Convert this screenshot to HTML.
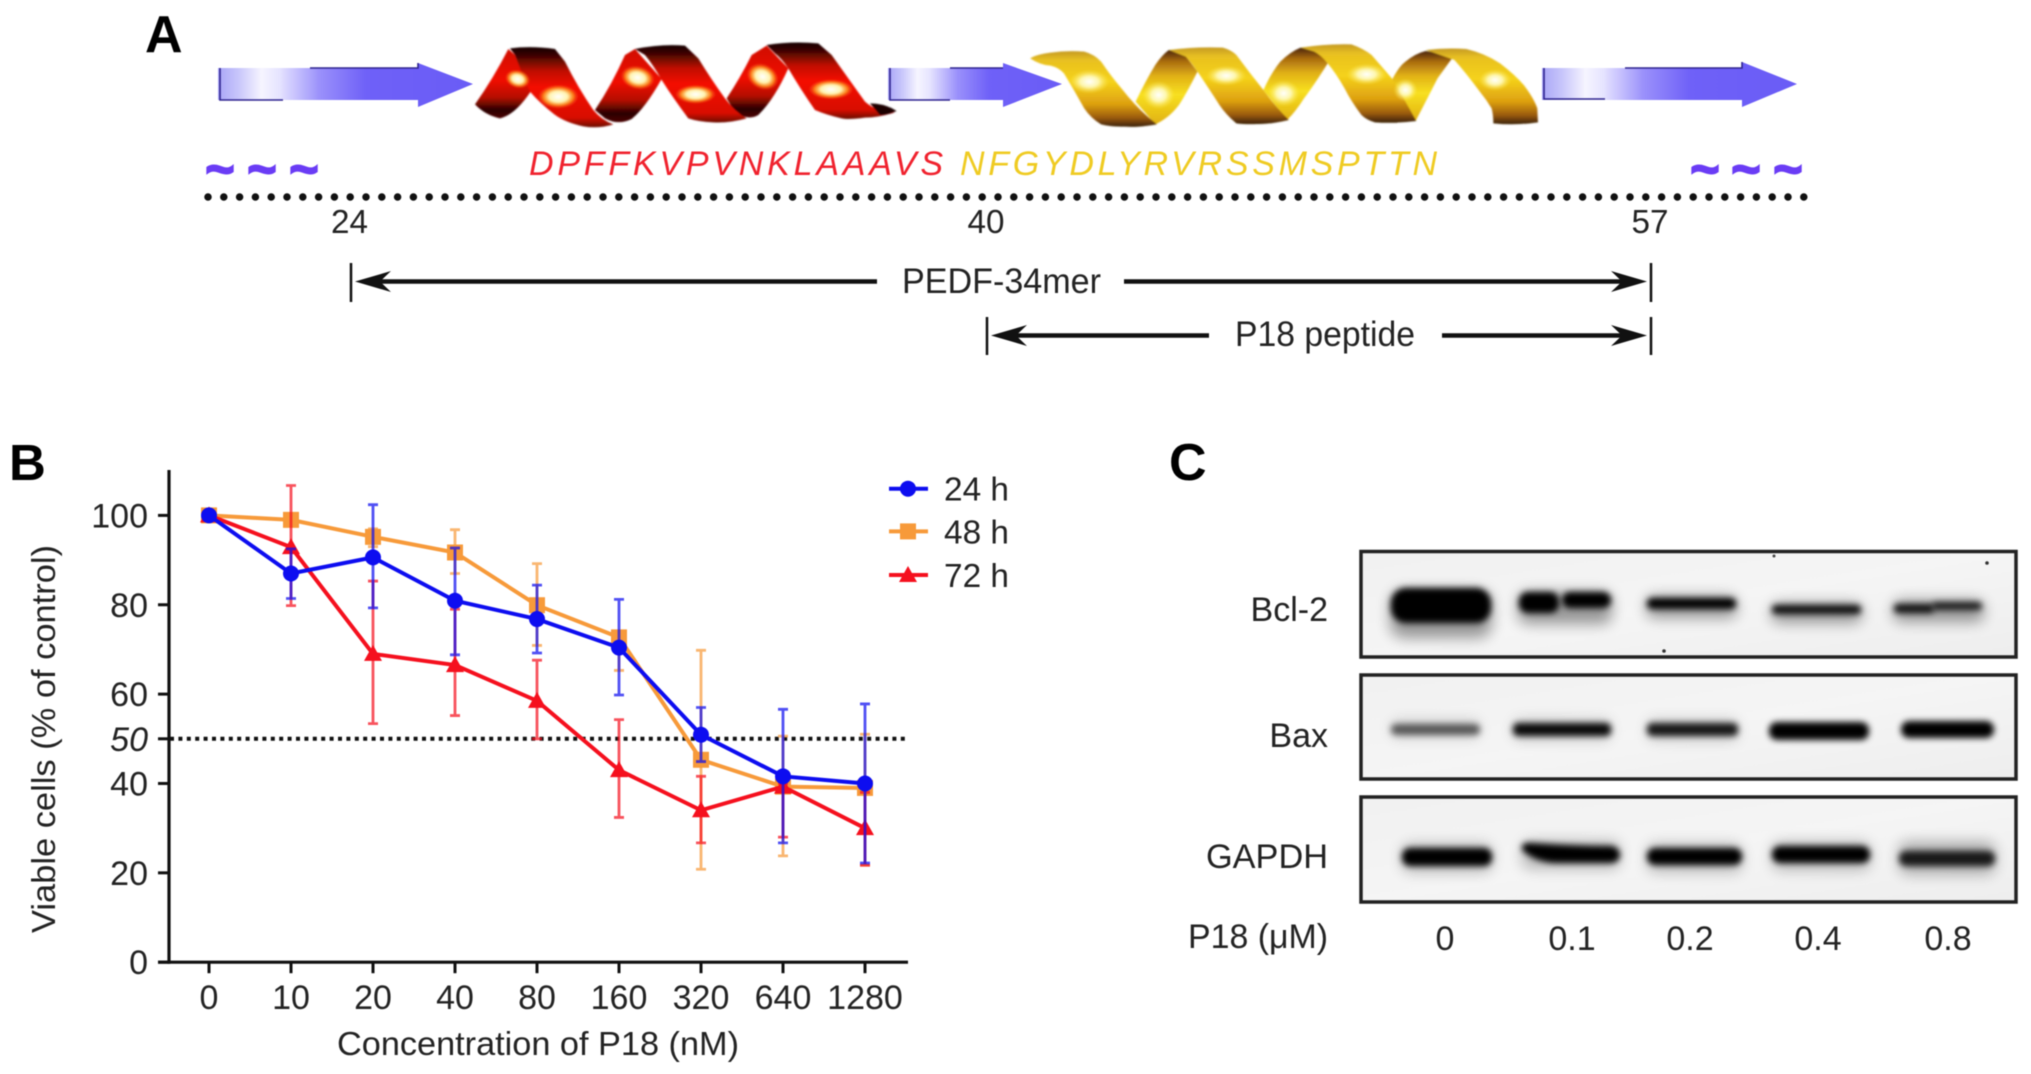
<!DOCTYPE html>
<html lang="en">
<head>
<meta charset="utf-8">
<title>P18 peptide figure</title>
<style>
html,body{margin:0;padding:0;background:#fff;width:2031px;height:1074px;overflow:hidden}
svg{display:block;filter:blur(0.45px)}
text{font-family:"Liberation Sans",sans-serif;fill:#232323}
.panel{font-weight:bold;font-size:52px;fill:#000}
.band{fill:#000;filter:url(#bandBlur)}
.halo{fill:#000;filter:url(#haloBlur);opacity:.38}
.box{fill:url(#blotBg);stroke:#222;stroke-width:3.5}
</style>
</head>
<body>
<svg id="figure" xmlns="http://www.w3.org/2000/svg" width="2031" height="1074" viewBox="0 0 2031 1074">
<defs>
  <linearGradient id="arrowGrad" x1="0" x2="1" y1="0" y2="0">
    <stop offset="0" stop-color="#a9a6f7"/><stop offset=".08" stop-color="#c8c6fb"/><stop offset=".17" stop-color="#f6f5ff"/>
    <stop offset=".24" stop-color="#e6e4ff"/><stop offset=".4" stop-color="#9a90fb"/><stop offset=".58" stop-color="#6f61f8"/><stop offset="1" stop-color="#6a5cf6"/>
  </linearGradient>
  <linearGradient id="redGrad" x1="0" x2="0" y1="0" y2="1">
    <stop offset="0" stop-color="#150201"/><stop offset=".1" stop-color="#3a0402"/><stop offset=".3" stop-color="#c01005"/><stop offset=".5" stop-color="#f41005"/><stop offset=".88" stop-color="#d80d05"/><stop offset="1" stop-color="#6a0905"/>
  </linearGradient>
  <linearGradient id="redBack" x1="0" x2="0" y1="0" y2="1">
    <stop offset="0" stop-color="#d01005"/><stop offset=".45" stop-color="#f01005"/><stop offset=".7" stop-color="#b40c04"/><stop offset=".88" stop-color="#2a0301"/><stop offset="1" stop-color="#4a0602"/>
  </linearGradient>
  <linearGradient id="goldGrad" x1="0" x2="0" y1="0" y2="1">
    <stop offset="0" stop-color="#c59a20"/><stop offset=".12" stop-color="#e8c020"/><stop offset=".4" stop-color="#f5d21a"/><stop offset=".7" stop-color="#dda010"/><stop offset=".88" stop-color="#9a5a08"/><stop offset="1" stop-color="#3a2006"/>
  </linearGradient>
  <linearGradient id="goldBack" x1="0" x2="0" y1="0" y2="1">
    <stop offset="0" stop-color="#4a2406"/><stop offset=".15" stop-color="#a86a10"/><stop offset=".35" stop-color="#e0b015"/><stop offset=".6" stop-color="#f8e020"/><stop offset="1" stop-color="#e0b010"/>
  </linearGradient>
  <linearGradient id="blotBg" x1="0" x2="1" y1="0" y2="1">
    <stop offset="0" stop-color="#f1f1f1"/><stop offset=".5" stop-color="#f5f5f5"/><stop offset="1" stop-color="#eeeeee"/>
  </linearGradient>
  <radialGradient id="redGlow">
    <stop offset="0" stop-color="#ffffff"/><stop offset=".45" stop-color="#fff4b0"/><stop offset=".72" stop-color="#ffa020" stop-opacity=".8"/><stop offset="1" stop-color="#ff3008" stop-opacity="0"/>
  </radialGradient>
  <radialGradient id="goldGlow">
    <stop offset="0" stop-color="#ffffff"/><stop offset=".45" stop-color="#fffbc0" stop-opacity=".9"/><stop offset="1" stop-color="#ffe840" stop-opacity="0"/>
  </radialGradient>
  <filter id="bandBlur" x="-20%" y="-100%" width="140%" height="300%"><feGaussianBlur stdDeviation="3.2"/></filter>
  <filter id="haloBlur" x="-30%" y="-150%" width="160%" height="400%"><feGaussianBlur stdDeviation="7"/></filter>
  <filter id="soft" x="-5%" y="-5%" width="110%" height="110%"><feGaussianBlur stdDeviation="2"/></filter>
</defs>

<!-- Panel A -->
<text class="panel" x="145" y="52">A</text>

<g>
  <path d="M218 68 H418 V63 L473 84 L418 107 V100 H218 Z" fill="url(#arrowGrad)"/>
  <path d="M283 100 H220 V68 M310 68 H418 V63" fill="none" stroke="#2f2490" stroke-width="1.6"/>
  <path d="M888 68 H1003 V63 L1062 84 L1003 107 V100 H888 Z" fill="url(#arrowGrad)"/>
  <path d="M950 100 H890 V68 M950 68 H1003" fill="none" stroke="#2f2490" stroke-width="1.6"/>
  <path d="M1542 68 H1742 V62 L1797 84 L1742 107 V100 H1542 Z" fill="url(#arrowGrad)"/>
  <path d="M1605 99 H1544 V68 M1625 68 H1742 V62" fill="none" stroke="#2f2490" stroke-width="1.6"/>
</g>

<g transform="translate(465,35) scale(0.3333)" filter="url(#soft)">
  <path fill="url(#redBack)" d="M30 208 Q85 130 130 42 L150 60 L197 170 Q150 240 105 250 Q60 240 30 208 Z"/>
  <path fill="url(#redBack)" d="M390 225 Q440 150 480 60 L510 42 L590 132 Q540 220 500 252 Q460 272 420 250 Z"/>
  <path fill="url(#redBack)" d="M785 190 Q825 130 860 60 L905 32 L970 100 Q930 190 880 240 Q850 258 810 232 Z"/>
  <path fill="url(#redGrad)" d="M135 40 Q200 32 270 42 L300 80 Q340 160 385 225 Q410 255 445 268 Q400 282 355 274 Q300 262 268 238 Q225 205 195 170 Q170 115 150 60 Z"/>
  <path fill="url(#redGrad)" d="M510 42 Q590 26 660 32 L700 70 Q740 135 780 190 Q810 230 845 250 Q790 265 745 262 Q700 260 670 250 Q625 190 590 135 Q565 90 540 60 Z"/>
  <path fill="url(#redGrad)" d="M905 30 Q980 18 1060 25 L1100 60 Q1150 130 1200 200 Q1240 235 1290 232 Q1240 248 1200 248 Q1150 255 1130 250 Q1085 240 1050 225 Q1005 160 970 100 Q950 70 930 55 Z"/>
  <path fill="#1a0301" d="M1215 205 Q1260 205 1295 228 Q1270 240 1245 240 Z"/>
  <ellipse cx="158" cy="132" rx="38" ry="27" fill="url(#redGlow)" transform="rotate(15 158 132)"/>
  <ellipse cx="280" cy="185" rx="62" ry="36" fill="url(#redGlow)"/>
  <ellipse cx="518" cy="128" rx="52" ry="35" fill="url(#redGlow)" transform="rotate(12 518 128)"/>
  <ellipse cx="692" cy="178" rx="62" ry="28" fill="url(#redGlow)"/>
  <ellipse cx="893" cy="125" rx="50" ry="38" fill="url(#redGlow)" transform="rotate(25 893 125)"/>
  <ellipse cx="1098" cy="163" rx="68" ry="30" fill="url(#redGlow)"/>
</g>

<g transform="translate(1020,35) scale(0.3381,0.3333)" filter="url(#soft)">
  <path fill="url(#goldBack)" d="M342 200 Q370 140 400 90 Q420 60 440 45 L480 50 L525 110 Q490 180 470 210 Q440 250 400 268 Z"/>
  <path fill="url(#goldBack)" d="M720 165 Q745 110 770 80 Q800 50 830 38 L880 45 L910 85 Q870 150 840 190 Q815 230 790 255 Z"/>
  <path fill="url(#goldBack)" d="M1100 135 Q1120 95 1140 80 Q1170 55 1200 48 L1285 60 Q1260 95 1235 130 Q1200 200 1170 258 Q1140 220 1125 190 Z"/>
  <path fill="url(#goldGrad)" d="M30 70 Q50 58 90 53 Q140 46 190 50 Q220 58 240 80 Q270 125 300 160 Q350 225 405 268 Q350 278 310 275 Q265 275 240 268 Q210 250 190 220 Q160 165 130 115 Q115 98 90 92 Q60 90 30 70 Z"/>
  <path fill="url(#goldGrad)" d="M440 45 Q520 35 600 38 Q625 45 640 60 Q680 115 720 165 Q755 215 795 255 Q740 268 700 267 Q665 268 640 265 Q610 240 590 210 Q555 155 525 110 Q505 80 490 65 Z"/>
  <path fill="url(#goldGrad)" d="M830 38 Q905 26 980 28 Q1015 40 1040 60 Q1070 95 1100 130 Q1135 190 1172 258 Q1110 266 1050 262 Q1025 255 1010 240 Q980 200 960 160 Q935 115 910 85 Q890 60 870 50 Z"/>
  <path fill="url(#goldGrad)" d="M1200 45 Q1260 38 1320 42 Q1375 55 1420 85 Q1465 120 1490 150 Q1520 190 1530 220 L1532 262 Q1465 272 1400 265 Q1400 240 1395 220 Q1380 195 1360 170 Q1320 115 1285 75 Z"/>
  <ellipse cx="205" cy="140" rx="60" ry="36" fill="url(#goldGlow)"/>
  <ellipse cx="410" cy="180" rx="48" ry="42" fill="url(#goldGlow)"/>
  <ellipse cx="610" cy="122" rx="60" ry="30" fill="url(#goldGlow)"/>
  <ellipse cx="780" cy="175" rx="48" ry="40" fill="url(#goldGlow)"/>
  <ellipse cx="1025" cy="118" rx="60" ry="32" fill="url(#goldGlow)"/>
  <ellipse cx="1140" cy="165" rx="36" ry="34" fill="url(#goldGlow)"/>
  <ellipse cx="1405" cy="135" rx="48" ry="32" fill="url(#goldGlow)"/>
</g>

<text x="529" y="175" font-size="34" font-style="italic" style="fill:#f0222e" textLength="414" lengthAdjust="spacing">DPFFKVPVNKLAAAVS</text>
<text x="960" y="175" font-size="34" font-style="italic" style="fill:#efcb22" textLength="477" lengthAdjust="spacing">NFGYDLYRVRSSMSPTTN</text>

<g font-weight="bold" font-size="50" text-anchor="middle">
  <text x="220" y="186" style="fill:#6a3cf5;stroke:#6a3cf5;stroke-width:2">~</text>
  <text x="262" y="186" style="fill:#6a3cf5;stroke:#6a3cf5;stroke-width:2">~</text>
  <text x="304" y="186" style="fill:#6a3cf5;stroke:#6a3cf5;stroke-width:2">~</text>
  <text x="1705" y="186" style="fill:#6a3cf5;stroke:#6a3cf5;stroke-width:2">~</text>
  <text x="1746" y="186" style="fill:#6a3cf5;stroke:#6a3cf5;stroke-width:2">~</text>
  <text x="1788" y="186" style="fill:#6a3cf5;stroke:#6a3cf5;stroke-width:2">~</text>
</g>

<line x1="208" y1="197" x2="1804" y2="197" stroke="#111" stroke-width="7.5" stroke-linecap="round" stroke-dasharray="0 15.8"/>

<text x="349.5" y="233" font-size="33" text-anchor="middle" textLength="37" lengthAdjust="spacingAndGlyphs">24</text>
<text x="986" y="233" font-size="33" text-anchor="middle" textLength="37" lengthAdjust="spacingAndGlyphs">40</text>
<text x="1650" y="233" font-size="33" text-anchor="middle" textLength="37" lengthAdjust="spacingAndGlyphs">57</text>

<g>
  <line x1="351" y1="263" x2="351" y2="302" stroke="#111" stroke-width="2.5"/>
  <line x1="1651" y1="263" x2="1651" y2="302" stroke="#111" stroke-width="2.5"/>
  <line x1="370" y1="281.5" x2="877" y2="281.5" stroke="#111" stroke-width="4.5"/>
  <path d="M355 281.5 L391 271 L380 281.5 L391 292 Z" fill="#111"/>
  <line x1="1124" y1="281.5" x2="1632" y2="281.5" stroke="#111" stroke-width="4.5"/>
  <path d="M1647 281.5 L1611 271 L1622 281.5 L1611 292 Z" fill="#111"/>
  <text x="902" y="293" font-size="35" textLength="199" lengthAdjust="spacingAndGlyphs">PEDF-34mer</text>
</g>
<g>
  <line x1="987" y1="317" x2="987" y2="355" stroke="#111" stroke-width="2.5"/>
  <line x1="1651" y1="317" x2="1651" y2="355" stroke="#111" stroke-width="2.5"/>
  <line x1="1005" y1="335.5" x2="1209" y2="335.5" stroke="#111" stroke-width="4.5"/>
  <path d="M991 335.5 L1027 325 L1016 335.5 L1027 346 Z" fill="#111"/>
  <line x1="1442" y1="335.5" x2="1632" y2="335.5" stroke="#111" stroke-width="4.5"/>
  <path d="M1647 335.5 L1611 325 L1622 335.5 L1611 346 Z" fill="#111"/>
  <text x="1235" y="346" font-size="35" textLength="180" lengthAdjust="spacingAndGlyphs">P18 peptide</text>
</g>

<!-- Panel B -->
<text class="panel" x="9" y="480" style="font-size:51px">B</text>
<g id="chart"></g>

<!-- Panel C -->
<text class="panel" x="1169" y="480">C</text>
<g>
  <rect class="box" x="1361" y="551.5" width="655" height="105.5"/>
  <rect class="box" x="1361" y="675" width="655" height="104"/>
  <rect class="box" x="1361" y="797" width="655" height="105"/>

  <rect class="halo" x="1390" y="590" width="102" height="48" rx="14"/>
  <rect class="band" x="1391" y="588" width="100" height="35" rx="15"/>
  <rect class="halo" x="1518" y="592" width="94" height="32" rx="10"/>
  <rect class="band" x="1519" y="592" width="40" height="21" rx="9"/>
  <rect class="band" x="1562" y="592" width="49" height="16" rx="8"/>
  <rect class="halo" x="1646" y="596" width="91" height="22" rx="8"/>
  <rect class="band" x="1647" y="598" width="89" height="11" rx="5"/>
  <rect class="halo" x="1771" y="603" width="91" height="20" rx="8"/>
  <rect class="band" x="1772" y="605" width="89" height="9" rx="4" opacity=".92"/>
  <rect class="halo" x="1893" y="600" width="91" height="22" rx="8"/>
  <rect class="band" x="1894" y="604" width="40" height="9" rx="4" opacity=".9"/>
  <rect class="band" x="1932" y="602" width="50" height="8" rx="4" opacity=".85"/>

  <rect class="halo" x="1391" y="720" width="89" height="18" rx="6" style="opacity:.16"/>
  <rect class="band" x="1391" y="724" width="89" height="11" rx="5" opacity=".58"/>
  <rect class="halo" x="1513" y="720" width="98" height="20" rx="6" style="opacity:.2"/>
  <rect class="band" x="1513" y="723" width="98" height="13" rx="5" opacity=".95"/>
  <rect class="halo" x="1647" y="720" width="91" height="20" rx="6" style="opacity:.2"/>
  <rect class="band" x="1647" y="723" width="91" height="13" rx="5" opacity=".88"/>
  <rect class="band" x="1769" y="722" width="100" height="18" rx="8"/>
  <rect class="band" x="1901" y="721" width="93" height="17" rx="8"/>

  <rect class="halo" x="1402" y="844" width="90" height="28" rx="8" style="opacity:.25"/>
  <rect class="band" x="1402" y="848" width="90" height="18" rx="8"/>
  <rect class="halo" x="1522" y="841" width="98" height="28" rx="8" style="opacity:.25"/>
  <path class="band" d="M1522 846 Q1524 842 1532 843 Q1575 846 1612 846 Q1620 848 1620 856 Q1618 863 1610 863 H1555 Q1535 862 1522 850 Z"/>
  <rect class="halo" x="1647" y="844" width="95" height="28" rx="8" style="opacity:.25"/>
  <rect class="band" x="1647" y="848" width="95" height="17" rx="8"/>
  <rect class="halo" x="1772" y="842" width="98" height="28" rx="8" style="opacity:.25"/>
  <rect class="band" x="1772" y="846" width="98" height="17" rx="8"/>
  <rect class="halo" x="1899" y="842" width="96" height="32" rx="8" style="opacity:.3"/>
  <rect class="band" x="1899" y="851" width="96" height="15" rx="7" opacity=".85"/>

  <circle cx="1774" cy="556" r="1.5" fill="#444"/>
  <circle cx="1987" cy="563" r="1.8" fill="#333"/>
  <circle cx="1664" cy="651" r="1.8" fill="#333"/>

  <text x="1328" y="621" font-size="34" text-anchor="end">Bcl-2</text>
  <text x="1328" y="747" font-size="34" text-anchor="end">Bax</text>
  <text x="1328" y="868" font-size="34" text-anchor="end" textLength="122" lengthAdjust="spacingAndGlyphs">GAPDH</text>
  <text x="1188" y="948" font-size="34" textLength="140" lengthAdjust="spacingAndGlyphs">P18 (μM)</text>
  <text x="1445" y="950" font-size="34" text-anchor="middle">0</text>
  <text x="1572" y="950" font-size="34" text-anchor="middle">0.1</text>
  <text x="1690" y="950" font-size="34" text-anchor="middle">0.2</text>
  <text x="1818" y="950" font-size="34" text-anchor="middle">0.4</text>
  <text x="1948" y="950" font-size="34" text-anchor="middle">0.8</text>
</g>
</svg>

<script>
const categories = ['0','10','20','40','80','160','320','640','1280'];
const yTicks = [0,20,40,50,60,80,100];
const seriesNames = ['24 h','48 h','72 h'];
const values24 = [100,87,90.6,80.9,76.8,70.4,50.9,41.6,40];
const upper24 = [100,92.5,102.4,92.7,84.4,81.2,57,56.6,57.8];
const lower24 = [100,81.4,79.3,68.8,69.2,59.8,44.9,26.7,22.2];
const values48 = [100,99,95.2,91.7,79.9,72.7,45.3,39.3,39];
const upper48 = [100,100,97,96.8,89.2,74,69.8,50.6,51];
const lower48 = [100,98,93,87,70.9,65.3,20.8,23.8,21.7];
const values72 = [100,92.9,69,66.5,58.5,43,34,39.3,30];
const upper72 = [100,106.7,85.3,79,67.6,54.3,41.6,40,38];
const lower72 = [100,79.8,53.4,55.2,50,32.4,26.7,28,21.7];
const thresholdValue = 50;

const NS = 'http://www.w3.org/2000/svg';
const chart = document.getElementById('chart');
const xScale = i => 209 + i * 82;
const yScale = v => 962.2 - v * 4.468;

function mk(tag, parent, attrs, txt) {
  const el = document.createElementNS(NS, tag);
  for (const k in attrs) el.setAttribute(k, attrs[k]);
  if (txt !== undefined) el.textContent = txt;
  parent.appendChild(el);
  return el;
}
function marker(kind, x, y, color, parent) {
  if (kind === 'circle') return mk('circle', parent, {cx:x, cy:y, r:8, fill:color});
  if (kind === 'square') return mk('rect', parent, {x:x-8, y:y-8, width:16, height:16, fill:color});
  return mk('path', parent, {d:`M${x} ${y-9} L${x+9} ${y+7} L${x-9} ${y+7} Z`, fill:color});
}

// Threshold
const threshold = mk('line', chart, {x1:170, x2:907, y1:yScale(thresholdValue), y2:yScale(thresholdValue), stroke:'#111', 'stroke-width':4, 'stroke-dasharray':'4 4.4'});



// Axes
const yAxis = mk('line', chart, {x1:169, x2:169, y1:470, y2:yScale(0)+1.5, stroke:'#111', 'stroke-width':3.2});


const xAxis = mk('line', chart, {x1:158, x2:908, y1:yScale(0), y2:yScale(0), stroke:'#111', 'stroke-width':3.2});



yTicks.forEach(v => {
  const tick = mk('line', chart, {x1:158, x2:169, y1:yScale(v), y2:yScale(v), stroke:'#111', 'stroke-width':3});
  
  
  const attrs = {x:148, y:yScale(v)+12, 'font-size':34, 'text-anchor':'end'};
  if (v === 50) attrs['font-style'] = 'italic';
  const lab = mk('text', chart, attrs, String(v));
  
  
});
categories.forEach((c, i) => {
  const tick = mk('line', chart, {x1:xScale(i), x2:xScale(i), y1:yScale(0), y2:yScale(0)+11, stroke:'#111', 'stroke-width':3});
  
  
  const lab = mk('text', chart, {x:xScale(i), y:1009, 'font-size':34, 'text-anchor':'middle'}, c);
  
  
});

const xTitle = mk('text', chart, {x:337, y:1055, 'font-size':33, textLength:402, lengthAdjust:'spacingAndGlyphs'}, 'Concentration of P18 (nM)');


const yTitle = mk('text', chart, {transform:'translate(55,933) rotate(-90)', 'font-size':33, textLength:388, lengthAdjust:'spacingAndGlyphs'}, 'Viable cells (% of control)');



// Series: drawn orange, red, blue (blue on top)
const drawOrder = [
  {name:'48h', label:seriesNames[1], vals:values48, up:upper48, lo:lower48, color:'#f79a3a', kind:'square', ly:531.4},
  {name:'72h', label:seriesNames[2], vals:values72, up:upper72, lo:lower72, color:'#f5101e', kind:'triangle', ly:575},
  {name:'24h', label:seriesNames[0], vals:values24, up:upper24, lo:lower24, color:'#0d0df0', kind:'circle', ly:488.7}
];
drawOrder.forEach(s => {
  const g = mk('g', chart, {});
  
  
  s.vals.forEach((v, i) => {
    if (s.up[i] === s.lo[i]) return;
    const x = xScale(i);
    const yU = yScale(s.up[i]), yL = yScale(s.lo[i]);
    const bar = mk('path', g, {d:`M${x} ${yU} V${yL} M${x-5} ${yU} H${x+5} M${x-5} ${yL} H${x+5}`, fill:'none', stroke:s.color, 'stroke-width':2.8, opacity:.72});
    
    
  });
  const line = mk('polyline', g, {points:s.vals.map((v,i)=>xScale(i)+','+yScale(v)).join(' '), fill:'none', stroke:s.color, 'stroke-width':4});
  
  
  s.vals.forEach((v, i) => {
    const m = marker(s.kind, xScale(i), yScale(v), s.color, g);
    
    
  });

  const leg = mk('g', chart, {});
  
  
  const legLine = mk('line', leg, {x1:889, x2:928, y1:s.ly, y2:s.ly, stroke:s.color, 'stroke-width':4});
  
  
  const legMark = marker(s.kind, 908, s.ly, s.color, leg);
  
  
  const legText = mk('text', leg, {x:944, y:s.ly+12, 'font-size':33, textLength:65, lengthAdjust:'spacingAndGlyphs'}, s.label);
  
  
});
</script>
</body>
</html>
